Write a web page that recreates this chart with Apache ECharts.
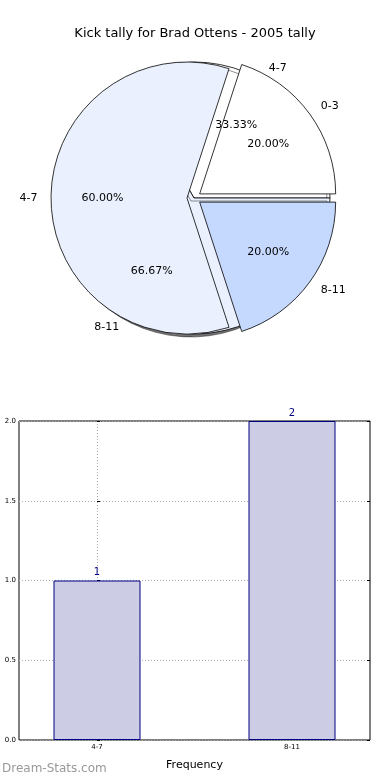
<!DOCTYPE html>
<html><head><meta charset="utf-8">
<script src="https://cdn.jsdelivr.net/npm/echarts@6/dist/echarts.min.js"></script>
<style>html,body{margin:0;padding:0;background:#fff}#c{width:390px;height:780px}</style>
</head><body><div id="c"></div>
<script>
// Pie A (drawn behind): counts by category
const pieACategories = ['4-7', '8-11'];
const pieAValues = [1, 2];
// Pie B (exploded, on top)
const pieBCategories = ['0-3', '4-7', '8-11'];
const pieBValues = [1, 3, 1];
// Bar chart
const barCategories = ['4-7', '8-11'];
const barValues = [1, 2];
const yTicks = [0, 0.5, 1, 1.5, 2];

const pieAColors = ['#ffffff', '#eaf0fd'];
const pieBColors = ['#ffffff', '#eaf0fd', '#c5d8fd'];
const FONT = 'DejaVu Sans';
const CX = 194, CY = 198, R = 136, EXPL = 7;

const chart = echarts.init(document.getElementById('c'), null, {renderer: 'canvas'});

function pieData(cats, vals, colors, selected) {
  return cats.map((c, i) => ({
    name: c, value: vals[i], selected: selected,
    itemStyle: {color: colors[i]},
    select: {itemStyle: {color: colors[i], borderColor: '#000', borderWidth: 0.8}}
  }));
}
const pctLabel = {show: true, position: 'inside', fontFamily: FONT, fontSize: 11, color: '#000',
  formatter: p => p.percent.toFixed(2) + '%'};
const nameLabel = {show: true, position: 'outside', fontFamily: FONT, fontSize: 11, color: '#000',
  distanceToLabelLine: 0, formatter: '{b}'};
const hiddenItem = {color: 'rgba(0,0,0,0)', borderWidth: 0};

const basePie = {
  type: 'pie', center: [CX, CY], startAngle: 0, clockwise: false,
  avoidLabelOverlap: false, animation: false, silent: true,
  labelLine: {show: false, length: R * 0.1, length2: 0},
  emphasis: {disabled: true}
};

chart.setOption({
  animation: false,
  title: {text: 'Kick tally for Brad Ottens - 2005 tally', left: 'center', top: 22,
    textStyle: {fontFamily: FONT, fontSize: 13, fontWeight: 'normal', color: '#000'}},
  graphic: [{type: 'text', left: 2, top: 763,
    style: {text: 'Dream-Stats.com', fontFamily: FONT, fontSize: 12, fill: '#999'}}],
  grid: {left: 19, right: 20, top: 421, bottom: 40, show: true, borderColor: '#000', borderWidth: 1, backgroundColor: '#fff'},
  xAxis: {
    type: 'value', min: -0.4, max: 1.4,
    name: 'Frequency', nameLocation: 'middle', nameGap: 20,
    nameTextStyle: {fontFamily: FONT, fontSize: 11, color: '#000'},
    axisLine: {show: false},
    axisTick: {show: true, inside: true, length: 3, customValues: [0, 1], lineStyle: {color: '#000'}},
    axisLabel: {customValues: [0, 1], fontFamily: FONT, fontSize: 7, color: '#000', margin: 4,
      formatter: v => barCategories[Math.round(v)]},
    splitLine: {show: true, lineStyle: {color: '#aaa', type: [1, 2], width: 1}}
  },
  yAxis: [{
    type: 'value', min: 0, max: 2, interval: 0.5,
    axisLine: {show: false},
    axisTick: {show: true, inside: true, length: 3, lineStyle: {color: '#000'}},
    axisLabel: {fontFamily: FONT, fontSize: 7, color: '#000', margin: 3, formatter: v => v.toFixed(1)},
    splitLine: {show: true, lineStyle: {color: '#aaa', type: [1, 2], width: 1}}
  }, {
    type: 'value', min: 0, max: 2, interval: 0.5, position: 'right',
    axisLine: {show: false},
    axisTick: {show: true, inside: true, length: 3, lineStyle: {color: '#000'}},
    axisLabel: {show: false}, splitLine: {show: false}
  }],
  series: [
    Object.assign({}, basePie, {
      name: 'A', radius: R,
      data: pieData(pieACategories, pieAValues, pieAColors, false),
      itemStyle: {borderColor: '#000', borderWidth: 0.8, shadowColor: 'rgba(0,0,0,0.55)', shadowOffsetX: -3, shadowOffsetY: 3, shadowBlur: 0},
      label: nameLabel
    }),
    Object.assign({}, basePie, {
      name: 'B', radius: R, selectedMode: 'multiple', selectedOffset: EXPL,
      data: pieData(pieBCategories, pieBValues, pieBColors, true),
      itemStyle: {borderColor: '#000', borderWidth: 0.8},
      label: nameLabel
    }),
    Object.assign({}, basePie, {
      name: 'Apct', radius: R * 1.2,
      data: pieACategories.map((c, i) => ({name: c, value: pieAValues[i], itemStyle: hiddenItem})),
      itemStyle: hiddenItem, label: pctLabel
    }),
    Object.assign({}, basePie, {
      name: 'Bpct', radius: R * 1.2, selectedMode: 'multiple', selectedOffset: EXPL,
      data: pieBCategories.map((c, i) => ({name: c, value: pieBValues[i], selected: true,
        itemStyle: hiddenItem, select: {itemStyle: hiddenItem}})),
      itemStyle: hiddenItem, label: pctLabel
    }),
    {
      type: 'bar', xAxisIndex: 0, yAxisIndex: 0, barWidth: 87,
      data: barValues.map((v, i) => [i, v]),
      itemStyle: {color: '#cccce4', borderColor: '#000080', borderWidth: 1},
      label: {show: true, position: 'top', distance: 3, fontFamily: FONT, fontSize: 10, color: '#000080',
        formatter: p => String(p.value[1])},
      emphasis: {disabled: true}
    }
  ]
});
</script></body></html>
